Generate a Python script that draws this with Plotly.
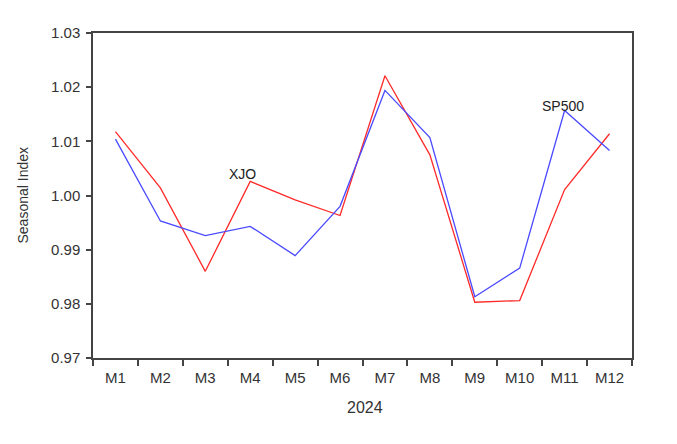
import plotly.graph_objects as go

months = ["M1", "M2", "M3", "M4", "M5", "M6", "M7", "M8", "M9", "M10", "M11", "M12"]
xjo = [1.0118, 1.0014, 0.9860, 1.0026, 0.9992, 0.9963, 1.0221, 1.0075, 0.9803, 0.9806, 1.0011, 1.0114]
sp500 = [1.0104, 0.9953, 0.9926, 0.9943, 0.9889, 0.9980, 1.0194, 1.0107, 0.9813, 0.9866, 1.0157, 1.0083]
y_ticks = [0.97, 0.98, 0.99, 1.00, 1.01, 1.02, 1.03]

fig = go.Figure()
fig.add_trace(go.Scatter(x=months, y=xjo, mode="lines", name="XJO",
                         line=dict(color="#FF2A2A", width=1.3)))
fig.add_trace(go.Scatter(x=months, y=sp500, mode="lines", name="SP500",
                         line=dict(color="#4A4AFF", width=1.3)))

fam = "Liberation Sans, Arial, sans-serif"
tickfont = dict(family=fam, size=15, color="#333333")
labfont = dict(family=fam, size=14, color="#222222")
fig.add_annotation(x=2.82, y=1.004, text="XJO", showarrow=False, font=labfont, xref="x", yref="y")
fig.add_annotation(x=9.96, y=1.0166, text="SP500", showarrow=False, font=labfont, xref="x", yref="y")
# axis titles
fig.add_annotation(x=-0.1317, y=0.5, xref="paper", yref="paper", text="Seasonal Index",
                   textangle=-90, showarrow=False, xanchor="center", yanchor="middle",
                   font=dict(family=fam, size=14, color="#333333"))
fig.add_annotation(x=0.5046, y=-0.1508, xref="paper", yref="paper", text="2024",
                   showarrow=False, xanchor="center", yanchor="middle",
                   font=dict(family=fam, size=16, color="#333333"))

fig.update_layout(
    width=669, height=436,
    margin=dict(l=85, r=45, t=25, b=86, autoexpand=False),
    paper_bgcolor="white", plot_bgcolor="white",
    showlegend=False,
    font=tickfont,
)
fig.update_xaxes(
    type="category", range=[-0.5, 11.5], tickson="boundaries", automargin=False,
    showline=True, linecolor="#444444", linewidth=1.5, mirror=True,
    ticks="outside", ticklen=6, tickcolor="#444444", tickwidth=1.5,
    ticklabelstandoff=5,
    showgrid=False, zeroline=False, tickfont=tickfont,
)
fig.update_yaxes(
    range=[0.97, 1.03], tickvals=y_ticks, ticktext=[f"{v:.2f}" for v in y_ticks], automargin=False,
    showline=True, linecolor="#444444", linewidth=1.5, mirror=True,
    ticks="outside", ticklen=5, tickcolor="#444444", tickwidth=1.5,
    ticklabelstandoff=3,
    showgrid=False, zeroline=False, tickfont=tickfont,
)

fig.write_html("out.html")
